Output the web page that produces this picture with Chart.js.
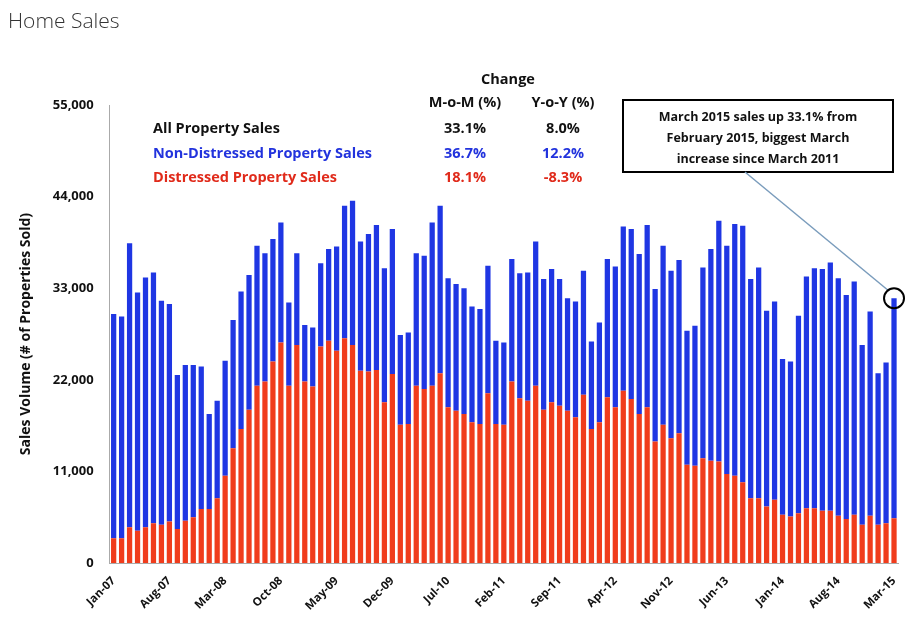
<!DOCTYPE html>
<html><head><meta charset="utf-8">
<script src="https://cdn.jsdelivr.net/npm/chart.js@4"></script>
<style>
html,body{margin:0;padding:0;background:#fff;width:922px;height:626px;overflow:hidden}
#t{position:absolute;left:8px;top:6px;font:300 21px "Open Sans",sans-serif;color:#333}
#w{position:absolute;left:0;top:0;width:922px;height:626px}
</style></head><body>
<div id="w"><canvas id="c"></canvas></div>
<div id="t">Home Sales</div>
<script>
const months=['Jan','Feb','Mar','Apr','May','Jun','Jul','Aug','Sep','Oct','Nov','Dec'];
const categories=[];
for(let y=7;y<=15;y++)for(let m=0;m<12;m++){if(y===15&&m>2)break;categories.push(months[m]+'-'+String(y).padStart(2,'0'));}
const totalSales=[29.9,29.6,38.4,32.5,34.3,34.9,31.5,31.1,22.6,23.8,23.8,23.6,17.9,19.5,24.3,29.2,32.6,34.6,38.1,37.2,38.9,40.9,31.3,37.2,28.6,28.3,
36.0,37.7,38.0,42.9,43.5,38.6,39.5,40.6,35.4,40.1,27.4,27.7,37.2,36.9,40.9,42.9,34.2,33.5,33.0,30.8,30.5,35.7,26.7,26.5,36.5,
34.8,34.9,38.6,34.1,35.3,34.1,31.8,31.4,35.1,26.6,28.9,36.5,35.6,40.4,40.1,37.1,40.6,32.9,38.1,35.1,36.4,27.9,28.5,35.5,37.7,41.1,
38.1,40.7,40.5,34.1,35.5,30.3,31.4,24.5,24.2,29.7,34.4,35.4,35.3,36.1,34.2,32.2,33.8,26.2,30.2,22.8,24.1,31.8].map(v=>v*1000);
const distressed=[3.0,3.0,4.3,3.9,4.3,4.8,4.6,5.0,4.1,5.1,5.5,6.5,6.5,7.8,10.5,13.8,16.1,18.4,21.3,21.8,24.2,26.5,21.3,26.2,21.8,21.2,
26.0,26.7,25.5,27.0,26.2,23.1,23.0,23.2,19.3,22.7,16.6,16.7,21.3,20.9,21.3,22.8,18.7,18.3,17.9,16.9,16.7,20.4,16.7,16.6,21.8,
19.8,19.5,21.3,18.4,19.3,18.9,18.3,17.5,20.2,16.1,16.9,19.9,18.7,20.7,19.7,17.9,18.7,14.6,16.6,15.0,15.6,11.8,11.7,12.6,12.3,12.2,
10.7,10.5,9.7,7.8,7.8,6.8,7.6,5.8,5.6,6.0,6.6,6.6,6.3,6.3,5.7,5.3,5.8,4.6,5.7,4.6,4.8,5.4].map(v=>v*1000);
const nonDistressed=totalSales.map((t,i)=>t-distressed[i]);
const yTicks=[0,11000,22000,33000,44000,55000];
const tableRows=[['All Property Sales','33.1%','8.0%','#111'],['Non-Distressed Property Sales','36.7%','12.2%','#2233dd'],['Distressed Property Sales','18.1%','-8.3%','#e02a1a']];
const noteLines=['March 2015 sales up 33.1% from','February 2015, biggest March','increase since March 2011'];
const F='"Open Sans", sans-serif';
const overlay={id:'ov',afterDraw(ch){
 const c=ch.ctx;c.save();
 c.font='bold 14.5px '+F;c.textBaseline='middle';
 c.fillStyle='#111';c.textAlign='center';
 c.fillText('Change',508,80);c.fillText('M-o-M (%)',465,103);c.fillText('Y-o-Y (%)',563,103);
 tableRows.forEach((r,i)=>{const y=129+i*24.5;c.fillStyle=r[3];c.textAlign='left';c.fillText(r[0],153,y);c.textAlign='center';c.fillText(r[1],465,y);c.fillText(r[2],563,y);});
 c.fillStyle='#fff';c.fillRect(623,100,270,72);c.strokeStyle='#000';c.lineWidth=2;c.strokeRect(623,100,270,72);
 c.fillStyle='#111';c.font='bold 12.5px '+F;noteLines.forEach((l,i)=>c.fillText(l,758,117+i*21));
 const xs=ch.scales.x,ys=ch.scales.y,n=categories.length-1;
 const px=xs.getPixelForValue(n),py=ys.getPixelForValue(totalSales[n]);
 c.strokeStyle='#7a9cbc';c.lineWidth=1.5;c.beginPath();c.moveTo(745,172);c.lineTo(px-6,py-8);c.stroke();
 c.strokeStyle='#000';c.lineWidth=2;c.beginPath();c.arc(px,py,10,0,Math.PI*2);c.stroke();
 c.restore();}};
new Chart(document.getElementById('c'),{type:'bar',
 data:{labels:categories,datasets:[
  {label:'Distressed',data:distressed,backgroundColor:'#f03c1c',barPercentage:0.66,categoryPercentage:1},
  {label:'Non-Distressed',data:nonDistressed,backgroundColor:'#1f36e3',barPercentage:0.66,categoryPercentage:1}]},
 options:{responsive:true,maintainAspectRatio:false,animation:false,
  layout:{padding:{top:105,right:24,left:14,bottom:10}},
  plugins:{legend:{display:false},tooltip:{enabled:false}},
  scales:{
   x:{stacked:true,grid:{display:false,drawTicks:true},border:{color:'#aaa'},
      ticks:{autoSkip:false,maxRotation:45,minRotation:45,color:'#111',font:{family:F,weight:'bold',size:11.5},
        callback:(v,i)=>i%7===0?categories[i]:''}},
   y:{stacked:true,min:0,max:55000,afterBuildTicks:a=>{a.ticks=yTicks.map(v=>({value:v}));},
      grid:{display:false},border:{color:'#aaa'},
      ticks:{color:'#111',font:{family:F,weight:'bold',size:13},padding:8,callback:v=>v.toLocaleString('en-US')},
      title:{display:true,text:'Sales Volume (# of Properties Sold)',color:'#111',padding:{bottom:10},font:{family:F,weight:'bold',size:14}}}}},
 plugins:[overlay]});
</script></body></html>
